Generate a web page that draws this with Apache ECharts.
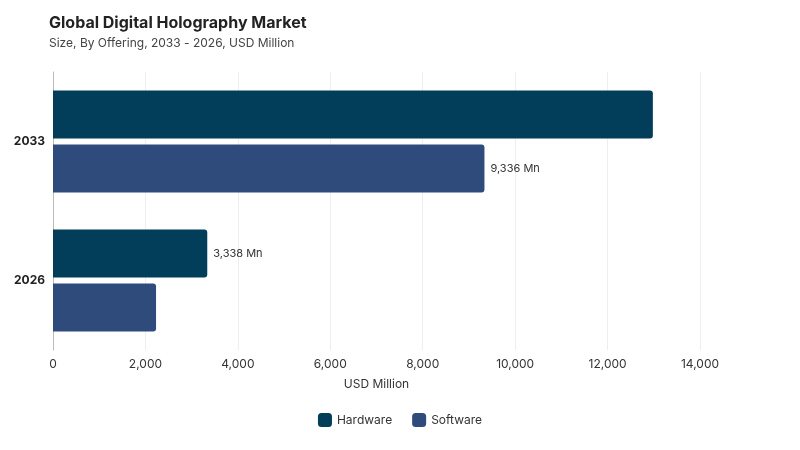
<!DOCTYPE html>
<html><head><meta charset="utf-8">
<script src="https://cdn.jsdelivr.net/npm/echarts@6/dist/echarts.min.js"></script>
<style>body{margin:0}#c{width:800px;height:450px}</style></head>
<body><div id="c"></div>
<script>
const categories = ['2033', '2026'];
const hardware = [12980, 3338];
const software = [9336, 2230];
const showHw = [false, true];
const showSw = [true, false];
const xTicks = {min: 0, max: 14000, interval: 2000};
const fmt = v => v.toLocaleString('en-US') + ' Mn';
const mk = (vals, show) => vals.map((v, i) => ({value: v, label: {show: show[i]}}));
const lbl = {position: 'right', distance: 6, color: '#333', fontSize: 11, fontFamily: 'Inter', formatter: p => fmt(p.value)};
const chart = echarts.init(document.getElementById('c'));
chart.setOption({
  textStyle: {fontFamily: 'Inter'},
  title: {text: 'Global Digital Holography Market', subtext: 'Size, By Offering, 2033 - 2026, USD Million',
    left: 44, top: 10, itemGap: 6,
    textStyle: {fontSize: 16, fontWeight: 'bold', color: '#222', fontFamily: 'Inter'},
    subtextStyle: {fontSize: 12, color: '#444', fontFamily: 'Inter'}},
  legend: {bottom: 18, left: 'center', itemWidth: 14, itemHeight: 14, itemGap: 20,
    icon: 'roundRect', textStyle: {fontSize: 12, color: '#333'}},
  grid: {left: 53, right: 100, top: 72, bottom: 100, containLabel: false},
  xAxis: {type: 'value', ...xTicks, name: 'USD Million', nameLocation: 'middle', nameGap: 28,
    nameTextStyle: {fontSize: 12, color: '#333'},
    axisLabel: {color: '#333', fontSize: 12, formatter: v => v.toLocaleString('en-US')},
    splitLine: {lineStyle: {color: '#eee'}}},
  yAxis: {type: 'category', data: categories, inverse: true,
    axisLine: {show: true, lineStyle: {color: '#bbb'}}, axisTick: {show: false},
    axisLabel: {color: '#222', fontWeight: 'bold', fontSize: 12}},
  series: [
    {name: 'Hardware', type: 'bar', data: mk(hardware, showHw), barWidth: 48, barGap: '12%',
      itemStyle: {color: '#023d5a', borderRadius: [0, 3, 3, 0]}, label: lbl},
    {name: 'Software', type: 'bar', data: mk(software, showSw), barWidth: 48,
      itemStyle: {color: '#2f4b7c', borderRadius: [0, 3, 3, 0]}, label: lbl}
  ]
});
</script></body></html>
